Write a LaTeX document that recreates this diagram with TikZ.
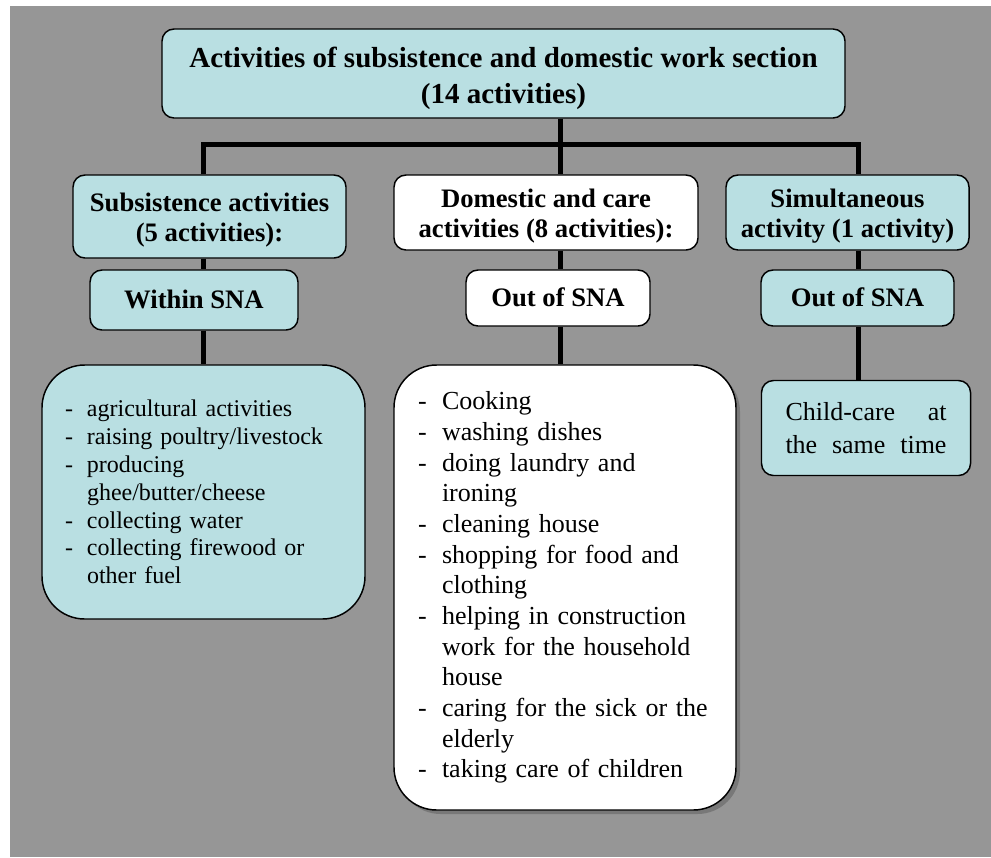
\documentclass[tikz,border=0pt]{standalone}
\usepackage{fontspec}
\setmainfont{Liberation Serif}
\usetikzlibrary{shadows}

\definecolor{panelgray}{RGB}{150,150,150}
\definecolor{sectionblue}{RGB}{185,223,226}

\newcommand{\dashitem}[2]{\makebox[#1][l]{-}#2}
\newcommand{\boxtext}[2][3pt]{\raisebox{-#1}[\height][\depth]{\begin{tabular}{@{}c@{}}#2\end{tabular}}}

\tikzset{
  box/.style={draw=black, line width=1.1pt, rounded corners=9pt, inner sep=0pt, align=center},
  bluebox/.style={box, fill=sectionblue},
  whitebox/.style={box, fill=white},
  headfont/.style={font=\fontsize{20}{22.5}\selectfont\bfseries},
  listbox/.style={rounded corners=32pt, align=left},
  link/.style={line width=3.75pt, black, line join=miter},
}

\begin{document}
\begin{tikzpicture}[x=0.75pt, y=-0.75pt]
  % Panel
  \useasboundingbox (0,0) rectangle (991,857);
  \fill[panelgray] (10,6) rectangle (991,857);

  % Top section
  \node[bluebox, minimum width=512.25pt, minimum height=66.75pt,
        font=\fontsize{21.75}{27}\selectfont\bfseries] (top) at (503.5,73.5)
        {\boxtext[3.5pt]{Activities of subsistence and domestic work section\\(14 activities)}};

  % Column headers
  \node[bluebox, headfont, minimum width=204.75pt, minimum height=62.25pt] (sub) at (209.5,216.5)
        {\boxtext{Subsistence activities\\(5 activities):}};
  \node[whitebox, headfont, minimum width=228pt, minimum height=56.25pt] (dom) at (546,212.5)
        {\boxtext{Domestic and care\\activities (8 activities):}};
  \node[bluebox, headfont, minimum width=182.25pt, minimum height=56.25pt] (sim) at (847.5,212.5)
        {\boxtext{Simultaneous\\activity (1 activity)}};

  % SNA boxes
  \node[bluebox, headfont, minimum width=156pt, minimum height=45pt] (lsna) at (194,300)
        {\boxtext[1.5pt]{Within SNA}};
  \node[whitebox, headfont, minimum width=138pt, minimum height=42pt] (msna) at (558,298)
        {\boxtext[2pt]{Out of SNA}};
  \node[bluebox, headfont, minimum width=144.75pt, minimum height=42pt] (rsna) at (857.5,298)
        {\boxtext[2pt]{Out of SNA}};

  % Activity lists
  \node[bluebox, listbox, minimum height=190.5pt, text width=207.75pt, inner xsep=17.25pt,
        font=\fontsize{18}{20.85}\selectfont] (lbox) at (203.5,492)
        {\dashitem{16.5pt}{agricultural activities}\\
         \dashitem{16.5pt}{raising poultry/livestock}\\
         \dashitem{16.5pt}{producing}\\
         \hspace*{16.5pt}ghee/butter/cheese\\
         \dashitem{16.5pt}{collecting water}\\
         \dashitem{16.5pt}{collecting firewood or}\\
         \hspace*{16.5pt}other fuel};
  \node[whitebox, listbox, minimum height=333.75pt, text width=220.5pt, inner xsep=18pt,
        font=\fontsize{19.5}{23}\selectfont,
        drop shadow={shadow xshift=3pt, shadow yshift=-3pt, fill=black, opacity=0.2}] (mbox) at (565,587.5)
        {\dashitem{18pt}{Cooking}\\
         \dashitem{18pt}{washing dishes}\\
         \dashitem{18pt}{doing laundry and}\\
         \hspace*{18pt}ironing\\
         \dashitem{18pt}{cleaning house}\\
         \dashitem{18pt}{shopping for food and}\\
         \hspace*{18pt}clothing\\
         \dashitem{18pt}{helping in construction}\\
         \hspace*{18pt}\mbox{work for the household}\\
         \hspace*{18pt}house\\
         \dashitem{18pt}{\mbox{caring for the sick or the}}\\
         \hspace*{18pt}elderly\\
         \dashitem{18pt}{taking care of children}};
  \node[bluebox, align=left, minimum height=71.25pt, text width=120.75pt, inner xsep=18pt,
        font=\fontsize{19.5}{25}\selectfont] (cbox) at (866,428)
        {Child-care\hfill at\\the\hfill same\hfill time};

  % Connectors
  \coordinate (lbus) at (203,144.5);
  \coordinate (mbus) at (560,144.5);
  \coordinate (rbus) at (858,144.5);
  \draw[link] (top.south -| mbus) -- (dom.north -| mbus);
  \draw[link] (sub.north -| lbus) -- (lbus) -- (rbus) -- (sim.north -| rbus);
  \foreach \head/\sna/\body/\col in {sub/lsna/lbox/lbus, dom/msna/mbox/mbus, sim/rsna/cbox/rbus} {
    \draw[link] (\head.south -| \col) -- (\sna.north -| \col);
    \draw[link] (\sna.south -| \col) -- (\body.north -| \col);
  }
\end{tikzpicture}
\end{document}
